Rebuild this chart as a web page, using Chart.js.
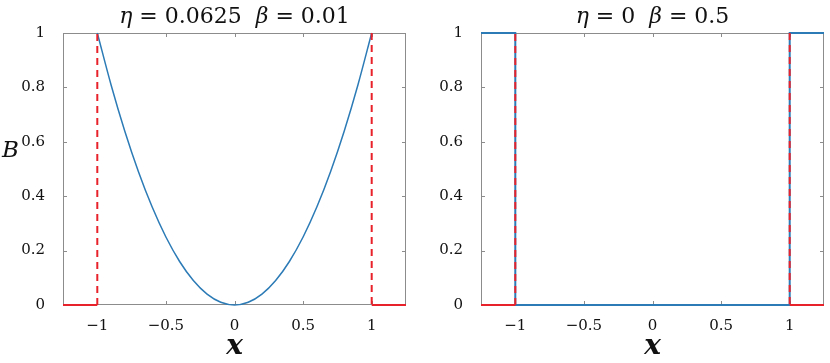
<!DOCTYPE html>
<html>
<head>
<meta charset="utf-8">
<script src="https://cdn.jsdelivr.net/npm/chart.js@4.4.1/dist/chart.umd.min.js"></script>
<style>
  body { margin: 0; background: #fff; }
  canvas { position: absolute; top: 0; }
  #leftChart { left: 0; }
  #rightChart { left: 415px; }
</style>
</head>
<body>
<canvas id="leftChart" width="415" height="363"></canvas>
<canvas id="rightChart" width="415" height="363"></canvas>
<script>
// axis ticks shared by both panels
var xTicks = [-1, -0.5, 0, 0.5, 1];
var yTicks = [0, 0.2, 0.4, 0.6, 0.8, 1];

// left panel: eta = 0.0625, beta = 0.01
var leftTitle = [['η', 'italic'], [' = 0.0625  ', 'normal'], ['β', 'italic'], [' = 0.01', 'normal']];
var curveX = [-1, -0.9, -0.8, -0.7, -0.6, -0.5, -0.4, -0.3, -0.2, -0.1, 0, 0.1, 0.2, 0.3, 0.4, 0.5, 0.6, 0.7, 0.8, 0.9, 1];
var curveB = [1, 0.81, 0.64, 0.49, 0.36, 0.25, 0.16, 0.09, 0.04, 0.01, 0, 0.01, 0.04, 0.09, 0.16, 0.25, 0.36, 0.49, 0.64, 0.81, 1];
var leftRedX = [-1.25, -1, null, 1, 1.25];
var leftRedB = [0, 0, null, 0, 0];
var leftDashX = [-1, -1, null, 1, 1];
var leftDashB = [0, 1, null, 1, 0];

// right panel: eta = 0, beta = 0.5
var rightTitle = [['η', 'italic'], [' = 0  ', 'normal'], ['β', 'italic'], [' = 0.5', 'normal']];
var stepX = [-1.25, -1, -1, 1, 1, 1.25];
var stepB = [1, 1, 0, 0, 1, 1];
var rightRedX = [-1.25, -1, null, 1, 1.25];
var rightRedB = [0, 0, null, 0, 0];
var rightDashX = [-1, -1, null, 1, 1];
var rightDashB = [0, 1, null, 1, 0];

var blue = '#2c7bb6';
var red = '#e8222a';
var frameColor = '#8c8c8c';
var serif = '"DejaVu Serif", serif';

function toPoints(xs, ys) {
    return xs.map(function (x, i) {
        return { x: x === null ? 0 : x, y: ys[i] };
    });
}

function fmt(v) {
    return (v < 0 ? '\u2212' : '') + Math.abs(v);
}

// frame box and inward tick marks
var framePlugin = {
    id: 'frame',
    beforeDatasetsDraw: function (chart) {
        var a = chart.chartArea, ctx = chart.ctx;
        var sx = chart.scales.x, sy = chart.scales.y;
        ctx.save();
        ctx.strokeStyle = frameColor;
        ctx.lineWidth = 1;
        ctx.strokeRect(a.left + 0.5, a.top + 0.5, a.right - a.left - 1, a.bottom - a.top - 1);
        ctx.beginPath();
        xTicks.forEach(function (t) {
            var px = Math.round(sx.getPixelForValue(t)) + 0.5;
            ctx.moveTo(px, a.bottom); ctx.lineTo(px, a.bottom - 4);
            ctx.moveTo(px, a.top); ctx.lineTo(px, a.top + 4);
        });
        yTicks.forEach(function (t) {
            var py = Math.round(sy.getPixelForValue(t)) + 0.5;
            ctx.moveTo(a.left, py); ctx.lineTo(a.left + 4, py);
            ctx.moveTo(a.right, py); ctx.lineTo(a.right - 4, py);
        });
        ctx.stroke();
        ctx.restore();
    }
};

// mixed italic/upright title and optional upright "B" label
var textPlugin = {
    id: 'mathText',
    afterDraw: function (chart, args, opts) {
        var ctx = chart.ctx, a = chart.chartArea;
        ctx.save();
        ctx.fillStyle = '#111';
        ctx.textBaseline = 'alphabetic';
        var total = 0;
        opts.parts.forEach(function (p) {
            ctx.font = p[1] + ' 22px ' + serif;
            total += ctx.measureText(p[0]).width;
        });
        var x = (a.left + a.right) / 2 - total / 2;
        opts.parts.forEach(function (p) {
            ctx.font = p[1] + ' 22px ' + serif;
            ctx.fillText(p[0], x, 23);
            x += ctx.measureText(p[0]).width;
        });
        if (opts.showB) {
            ctx.font = 'italic 23px ' + serif;
            ctx.textAlign = 'left';
            ctx.fillText('B', 2, 157);
        }
        ctx.restore();
    }
};

function makePanel(id, titleParts, datasets, yWidth, rightPad, showB) {
    var ctx = document.getElementById(id).getContext('2d');
    return new Chart(ctx, {
        type: 'line',
        data: { datasets: datasets },
        options: {
            responsive: false,
            animation: false,
            layout: { padding: { top: 33, right: rightPad, bottom: 0, left: 0 } },
            elements: { point: { radius: 0 } },
            plugins: {
                legend: { display: false },
                tooltip: { enabled: false },
                mathText: { parts: titleParts, showB: showB }
            },
            scales: {
                x: {
                    type: 'linear',
                    min: -1.25,
                    max: 1.25,
                    afterBuildTicks: function (s) { s.ticks = xTicks.map(function (v) { return { value: v }; }); },
                    afterFit: function (s) { s.height = 58; },
                    grid: { display: false },
                    border: { display: false },
                    ticks: {
                        color: '#111',
                        padding: 4,
                        maxRotation: 0,
                        font: { family: serif, size: 15 },
                        callback: function (v) { return fmt(v); }
                    },
                    title: {
                        display: true,
                        text: 'x',
                        color: '#111',
                        padding: { top: 0, bottom: -1 },
                        font: { family: serif, size: 28, style: 'italic', weight: 'bold' }
                    }
                },
                y: {
                    min: 0,
                    max: 1,
                    afterBuildTicks: function (s) { s.ticks = yTicks.map(function (v) { return { value: v }; }); },
                    afterFit: function (s) { s.width = yWidth; },
                    grid: { display: false },
                    border: { display: false },
                    ticks: {
                        color: '#111',
                        padding: 10,
                        font: { family: serif, size: 15 },
                        callback: function (v) { return fmt(v); }
                    }
                }
            }
        },
        plugins: [framePlugin, textPlugin]
    });
}

makePanel('leftChart', leftTitle, [
    { data: toPoints(leftDashX, leftDashB), borderColor: red, borderWidth: 2, borderDash: [7, 5], spanGaps: false, clip: 4 },
    { data: toPoints(leftRedX, leftRedB), borderColor: red, borderWidth: 2, spanGaps: false, clip: 4 },
    { data: toPoints(curveX, curveB), borderColor: blue, borderWidth: 1.5, cubicInterpolationMode: 'monotone', clip: 4 }
], 63, 9, true);

makePanel('rightChart', rightTitle, [
    { data: toPoints(rightDashX, rightDashB), borderColor: red, borderWidth: 2, borderDash: [7, 5], spanGaps: false, clip: 4 },
    { data: toPoints(rightRedX, rightRedB), borderColor: red, borderWidth: 2, spanGaps: false, clip: 4 },
    { data: toPoints(stepX, stepB), borderColor: blue, borderWidth: 2, clip: 4 }
], 66, 6, false);
</script>
</body>
</html>
